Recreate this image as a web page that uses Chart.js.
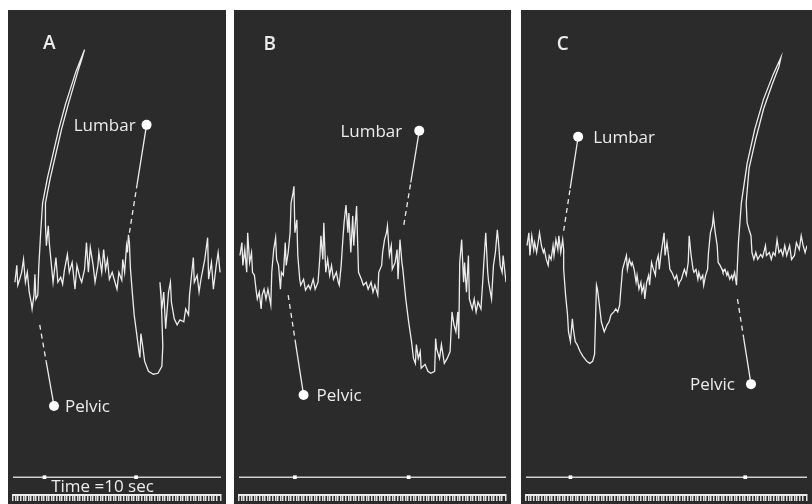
<!DOCTYPE html>
<html>
<head>
<meta charset="utf-8">
<script src="https://cdn.jsdelivr.net/npm/chart.js@4.4.0/dist/chart.umd.min.js"></script>
<style>
  html, body { margin: 0; padding: 0; background: #fff; }
  body { width: 812px; height: 504px; position: relative; overflow: hidden; }
  .panel { position: absolute; top: 10px; height: 494px; background: #2b2b2b; }
</style>
</head>
<body>
<div class="panel" style="left:8px;width:218px"><canvas id="chart-a"></canvas></div>
<div class="panel" style="left:234px;width:277px"><canvas id="chart-b"></canvas></div>
<div class="panel" style="left:521px;width:291px"><canvas id="chart-c"></canvas></div>
<script>
// record units: x = distance along the record, y = level above the time base
const Y_MAX = 485;
const BASE = 18; // level of the time-signal line

const traceA = [
  [2,215],[4,232],[5,212],[7,218],[9,225],[11,238],[13,215],[15,225],[17,205],[19,195],[20,188],[22,202],[23,223],[24,198],[26,202],
  [27,230],[29,265],[31,295],[36,320],[42,345],[48,370],[55,395],[66,428],[75,450],
  [72,440],[68,428],[58,395],[51,370],[45,345],[39,320],[34,295],[34,280],[34,273],
  [35,252],[37,272],[38,255],[40,235],[42,215],[45,240],[47,215],[50,220],[52,213],[54,228],[57,243],[59,225],[62,235],[65,208],
  [67,232],[70,220],[72,215],[75,228],[77,255],[79,225],[81,250],[84,232],[86,215],[89,232],[90,245],[93,225],[95,248],[97,228],
  [99,238],[101,218],[104,225],[106,218],[109,208],[111,225],[114,217],[115,238],[117,225],[119,252],[120,245],[121,263],
  [122,255],[123,230],[125,205],[127,182],[130,160],[132,145],[133,139],[134,163],[136,150],[138,135],[142,125],[147,122],
  [152,123],[156,130],[157,150],[156,180],[155,205],[154,215],
  [156,188],[158,205],[160,168],[163,205],[165,215],[166,195],[169,178],[172,172],[175,177],[179,175],[181,188],[184,182],
  [185,202],[189,240],[190,215],[193,222],[195,205],[197,218],[199,228],[201,238],[204,260],[205,218],[208,235],[210,208],
  [213,232],[215,245],[217,225]
];

const traceB = [
  [1,242],[3,255],[4,232],[6,248],[8,225],[9,265],[11,235],[13,245],[14,225],[16,222],[18,205],[19,198],[21,205],[23,188],
  [24,202],[26,208],[28,198],[30,208],[33,192],[34,225],[36,248],[38,260],[39,238],[41,232],[43,208],[44,225],[46,222],
  [48,255],[49,232],[51,245],[53,265],[54,295],[56,305],[57,312],[58,265],[60,278],[61,242],[63,218],[64,212],[67,218],
  [69,207],[72,212],[74,208],[77,218],[79,208],[82,215],[84,242],[85,262],[87,238],[88,275],[90,225],[92,238],[94,222],
  [96,232],[98,218],[101,225],[103,215],[104,212],[106,232],[108,262],[109,275],[111,293],[113,265],[114,285],[116,245],
  [118,282],[119,252],[122,292],[123,258],[124,225],[127,218],[129,212],[132,215],[134,208],[137,215],[139,205],[141,212],
  [144,202],[145,225],[148,232],[149,245],[151,258],[153,265],[154,272],[156,242],[158,252],[159,228],[162,235],[164,248],
  [165,218],[167,258],[169,235],[170,228],
  [173,198],[176,175],[179,155],[181,138],[183,133],[184,152],[186,138],[188,145],[189,128],[193,132],[196,125],[199,123],
  [203,125],[204,158],[205,148],[208,138],[210,152],[213,133],[216,138],[219,145],[221,185],[223,172],[225,165],[227,185],
  [228,158],[229,235],[231,258],[233,215],[234,235],[236,205],[238,242],[239,198],[242,188],[244,198],[246,185],[248,195],
  [251,188],[253,218],[254,235],[256,265],[258,225],[259,215],[262,198],[264,232],[266,245],[268,268],[269,258],[271,232],
  [273,225],[274,242],[277,215]
];

const traceC = [
  [1,252],[3,265],[4,242],[6,262],[8,248],[9,255],[11,245],[13,258],[14,265],[16,252],[18,245],[19,248],[21,238],[23,232],
  [24,242],[26,238],[28,252],[29,242],[31,258],[33,248],[34,262],[36,245],[38,258],[39,248],
  [39,228],[41,202],[43,182],[44,165],[46,155],[48,178],[49,168],[51,155],[53,152],[56,145],[59,140],[63,135],[66,133],
  [69,135],[71,142],[73,212],[74,208],[76,192],[78,175],[81,165],[84,172],[86,175],[88,182],[91,185],[93,188],[95,185],
  [97,192],[98,205],[100,228],[102,235],[104,242],[105,228],[107,238],[109,232],[110,235],[112,228],[114,215],[115,222],
  [117,208],[119,215],[120,205],[122,212],[123,198],[125,215],[127,222],[128,212],[130,235],[132,228],[134,222],[135,235],
  [137,242],[138,228],[140,245],[142,258],[143,265],[144,242],[146,255],[148,238],[149,228],[151,225],[154,218],[156,222],
  [158,212],[159,215],[161,218],[163,225],[164,228],[166,222],[168,235],[169,262],[171,242],[173,228],[174,225],[176,228],
  [178,218],[179,225],[181,218],[183,222],[184,212],[186,222],[188,228],[189,245],[191,265],[193,272],[194,282],[196,265],
  [198,252],[199,235],[201,232],[203,228],[204,225],[206,228],[208,222],[209,225],[211,218],[213,222],[214,218],[216,225],
  [218,212],
  [220,255],[223,295],[229,335],[237,370],[246,400],[256,425],[264,442],
  [262,433],[255,415],[246,390],[238,360],[231,330],[228,295],[229,275],
  [231,268],[233,262],[234,245],[236,238],[238,245],[240,238],[243,243],[245,240],[248,252],[249,242],[252,245],[254,238],
  [256,245],[258,242],[260,258],[262,245],[264,248],[266,242],[268,252],[270,242],[273,252],[275,238],[278,242],[280,255],
  [283,248],[285,262],[287,252],[289,245],[291,252]
];

// time-signal marks (every 10 sec) on each record
const timeMarksA = [33, 129];
const timeMarksB = [58, 176];
const timeMarksC = [46, 227];

// stimulus labels: where the pointer meets the trace, and where its dot sits
const notesA = [
  { text: 'Lumbar', at: [122, 265], dot: [140, 374], side: 'left', gap: 11 },
  { text: 'Pelvic', at: [28, 172], dot: [43, 90], side: 'right', gap: 11 }
];
const notesB = [
  { text: 'Lumbar', at: [171, 273], dot: [187, 368], side: 'left', gap: 17 },
  { text: 'Pelvic', at: [51, 202], dot: [67, 101], side: 'right', gap: 13 }
];
const notesC = [
  { text: 'Lumbar', at: [39, 267], dot: [54, 362], side: 'right', gap: 15 },
  { text: 'Pelvic', at: [219, 198], dot: [233, 112], side: 'left', gap: 16 }
];

const INK = '#ececec';
const FONT = '"Open Sans", "DejaVu Sans", sans-serif';

const recordText = {
  id: 'recordText',
  afterDatasetsDraw(chart) {
    const o = chart.options.plugins.recordText;
    const { ctx, scales: { x, y } } = chart;
    ctx.save();
    ctx.fillStyle = INK;
    ctx.textBaseline = 'middle';
    ctx.font = '600 19px ' + FONT;
    ctx.textAlign = 'center';
    ctx.fillText(o.letter, x.getPixelForValue(o.letterAt[0]), y.getPixelForValue(o.letterAt[1]));
    ctx.font = '17px ' + FONT;
    o.notes.forEach((n) => {
      const px = x.getPixelForValue(n.dot[0]);
      const py = y.getPixelForValue(n.dot[1]);
      ctx.textAlign = n.side === 'left' ? 'right' : 'left';
      ctx.fillText(n.text, n.side === 'left' ? px - n.gap : px + n.gap, py + 1);
    });
    if (o.caption) {
      ctx.textAlign = 'left';
      ctx.fillText(o.caption, x.getPixelForValue(o.captionAt[0]), y.getPixelForValue(o.captionAt[1]));
    }
    ctx.restore();
  }
};

function initRecord(id, width, trace, marks, notes, letter, letterAt, caption) {
  const canvas = document.getElementById(id);
  if (!canvas || typeof window.Chart !== 'function') return null;

  const datasets = [
    { data: marks.map((x) => ({ x, y: BASE })), showLine: false, pointStyle: 'rect', pointRadius: 2.6,
      pointBackgroundColor: '#fff', pointBorderColor: '#fff', pointBorderWidth: 0, order: 0 },
    { data: trace.map(([x, y]) => ({ x, y })), borderColor: INK, borderWidth: 1.3, pointRadius: 0, tension: 0, order: 1 },
    { data: [{ x: 0, y: BASE }, { x: width, y: BASE }], borderColor: '#d0d0d0', borderWidth: 1.4, pointRadius: 0, order: 3 }
  ];
  notes.forEach((n) => {
    // dashed near the trace, solid near the dot
    const mid = [n.at[0] + 0.45 * (n.dot[0] - n.at[0]), n.at[1] + 0.45 * (n.dot[1] - n.at[1])];
    datasets.push({
      data: [n.at, mid, n.dot].map(([x, y]) => ({ x, y })),
      borderColor: INK, borderWidth: 1.3, order: 2,
      pointRadius: [0, 0, 5], pointBackgroundColor: '#fff', pointBorderWidth: 0,
      segment: { borderDash: (c) => (c.p0DataIndex === 0 ? [5, 4] : undefined) }
    });
  });

  return new Chart(canvas.getContext('2d'), {
    type: 'line',
    data: { datasets },
    options: {
      responsive: true,
      maintainAspectRatio: false,
      animation: false,
      events: [],
      layout: { padding: 0 },
      plugins: {
        legend: { display: false },
        tooltip: { enabled: false },
        recordText: { letter, letterAt, notes, caption, captionAt: [40, 8] }
      },
      scales: {
        x: {
          type: 'linear', min: 0, max: width,
          afterFit: (s) => { s.height = 9; },
          border: { display: true, color: '#ececec', width: 2 },
          grid: { drawOnChartArea: false, drawTicks: true, tickLength: 6, color: '#e0e0e0', lineWidth: 1.5 },
          ticks: { display: false, stepSize: 2.7, autoSkip: false }
        },
        y: { display: false, min: 0, max: Y_MAX }
      }
    },
    plugins: [recordText]
  });
}

initRecord('chart-a', 218, traceA, timeMarksA, notesA, 'A', [38, 456], 'Time =10 sec');
initRecord('chart-b', 277, traceB, timeMarksB, notesB, 'B', [32, 455], null);
initRecord('chart-c', 291, traceC, timeMarksC, notesC, 'C', [38, 455], null);
</script>
</body>
</html>
